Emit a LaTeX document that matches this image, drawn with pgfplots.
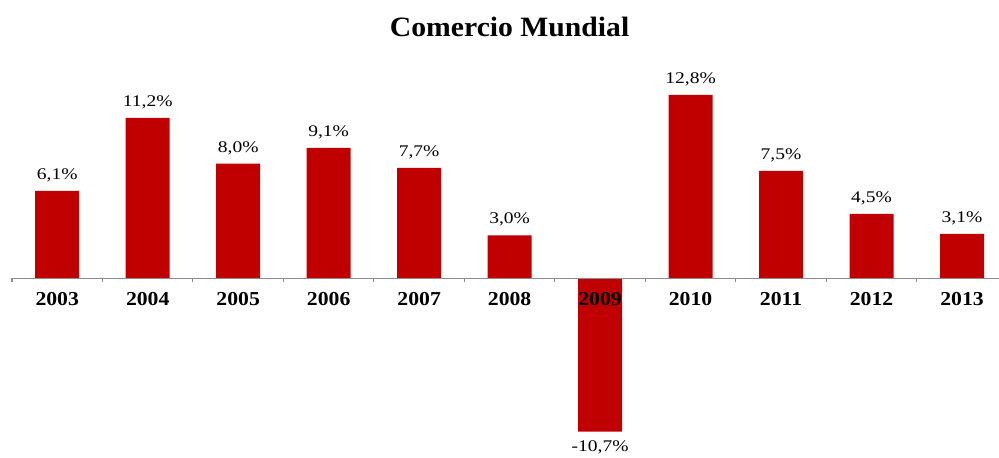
\documentclass[border=0pt]{standalone}
\usepackage{fontspec}
\setmainfont{Liberation Serif}
\newfontfamily\valfont[FakeStretch=1.2]{Liberation Serif}
\newfontfamily\tickfont[FakeStretch=1.1]{Liberation Serif}
\newfontfamily\titlefont[FakeStretch=1.06]{Liberation Serif}
\usepackage{pgfplots}
\pgfplotsset{compat=1.18}
\definecolor{barred}{RGB}{192,0,0}

\begin{document}
\begin{tikzpicture}
\begin{axis}[at={(0,0)}, anchor=south west,
  scale only axis, width=740.25pt, height=342.75pt,
  xmin=-0.5, xmax=10.409, ymin=-12.48, ymax=19.43,
  axis x line=middle, axis y line=none,
  axis line style={-, draw=gray!90, line width=0.8pt},
  axis on top,
  hide obscured x ticks=false,
  ybar, bar width=33pt, bar shift=0pt,
  xtick={0,...,10},
  xticklabels={2003,2004,2005,2006,2007,2008,2009,2010,2011,2012,2013},
  major x tick style={draw=none},
  minor xtick={-0.5,0.5,...,9.5},
  minor tick length=3pt, xtick align=outside,
  minor x tick style={draw=gray!90, line width=0.8pt},
  xticklabel style={font=\tickfont\bfseries\fontsize{14.8}{14.8}\selectfont, text=black, yshift=-3pt},
  /pgf/number format/.cd, fixed, fixed zerofill, precision=1, use comma, assume math mode=true,
  /pgfplots/.cd,
  nodes near coords={\pgfmathprintnumber{\pgfplotspointmeta}\%},
  every node near coord/.append style={font=\valfont\fontsize{12.2}{12.2}\selectfont, text=black, outer sep=3.5pt},
  clip=false]
\addplot[fill=barred, draw=none] coordinates {
 (0,6.1)(1,11.2)(2,8.0)(3,9.1)(4,7.7)(5,3.0)(6,-10.7)(7,12.8)(8,7.5)(9,4.5)(10,3.1)};
\node[font=\titlefont\bfseries\fontsize{21}{21}\selectfont] at (axis cs:5,17.55) {Comercio Mundial};
\end{axis}
\pgfresetboundingbox
\path (-9pt,0) rectangle (740.25pt,342.75pt);
\end{tikzpicture}
\end{document}
